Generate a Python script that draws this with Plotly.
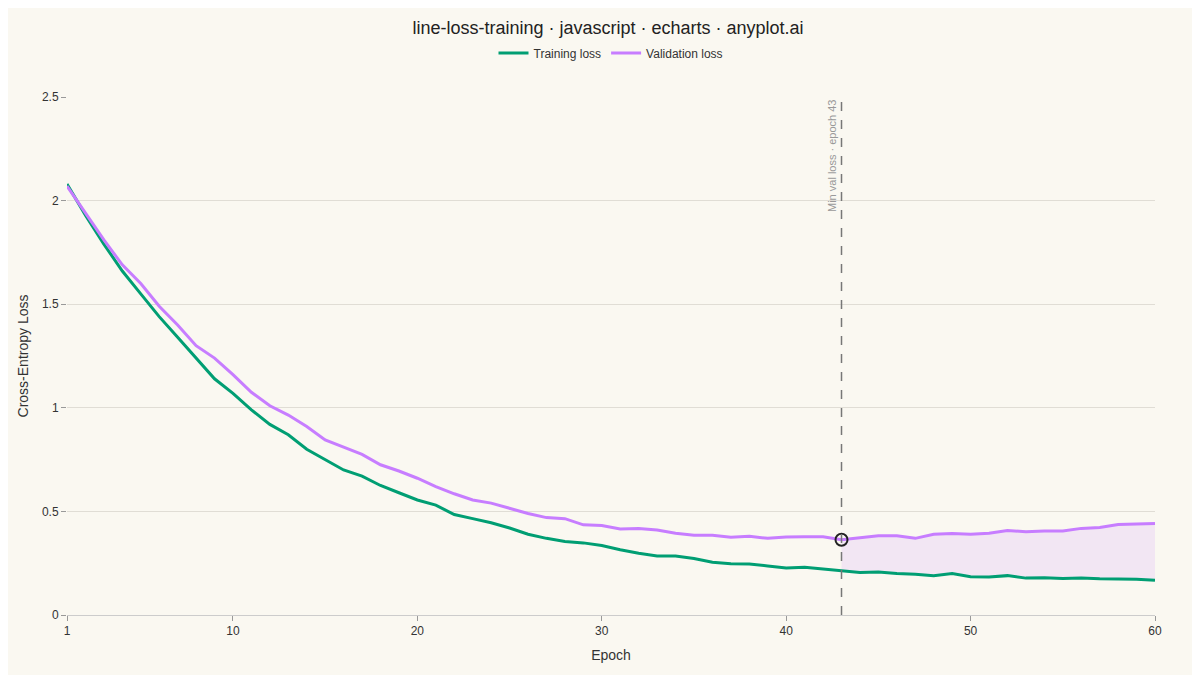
import plotly.graph_objects as go

epochs = list(range(1, 61))
train_loss = [2.08, 1.93, 1.79, 1.66, 1.55, 1.44, 1.34, 1.24, 1.14, 1.07,
              0.99, 0.92, 0.87, 0.80, 0.75, 0.70, 0.67, 0.625, 0.59, 0.555,
              0.53, 0.485, 0.465, 0.445, 0.42, 0.39, 0.37, 0.355, 0.348, 0.335,
              0.315, 0.298, 0.285, 0.285, 0.273, 0.255, 0.247, 0.246, 0.237, 0.227,
              0.23, 0.222, 0.213, 0.205, 0.207, 0.2, 0.197, 0.19, 0.2, 0.185,
              0.184, 0.19, 0.178, 0.18, 0.176, 0.178, 0.175, 0.175, 0.173, 0.168]
val_loss = [2.07, 1.94, 1.81, 1.69, 1.60, 1.49, 1.40, 1.30, 1.24, 1.16,
            1.075, 1.01, 0.965, 0.91, 0.845, 0.81, 0.775, 0.725, 0.695, 0.66,
            0.62, 0.585, 0.555, 0.54, 0.515, 0.49, 0.47, 0.465, 0.435, 0.432,
            0.415, 0.418, 0.41, 0.395, 0.385, 0.385, 0.375, 0.38, 0.37, 0.377,
            0.378, 0.378, 0.363, 0.372, 0.383, 0.382, 0.37, 0.39, 0.393, 0.39,
            0.395, 0.408, 0.402, 0.405, 0.405, 0.418, 0.422, 0.437, 0.44, 0.442]

best = val_loss.index(min(val_loss))
best_epoch = epochs[best]

green = "#009E73"
purple = "#C77DFF"
bg = "#FAF8F1"

fig = go.Figure()

# shaded overfitting gap after the best epoch
fig.add_trace(go.Scatter(x=epochs[best:], y=train_loss[best:], mode="lines",
                         line=dict(width=0), showlegend=False, hoverinfo="skip"))
fig.add_trace(go.Scatter(x=epochs[best:], y=val_loss[best:], mode="lines",
                         line=dict(width=0), fill="tonexty",
                         fillcolor="rgba(199,125,255,0.15)", showlegend=False, hoverinfo="skip"))

fig.add_trace(go.Scatter(x=epochs, y=train_loss, mode="lines", name="Training loss",
                         line=dict(color=green, width=3)))
fig.add_trace(go.Scatter(x=epochs, y=val_loss, mode="lines", name="Validation loss",
                         line=dict(color=purple, width=3)))
fig.add_trace(go.Scatter(x=[best_epoch], y=[val_loss[best]], mode="markers", showlegend=False,
                         marker=dict(size=12, color="rgba(0,0,0,0)",
                                     line=dict(color="#222222", width=2))))

fig.add_shape(type="line", x0=best_epoch, x1=best_epoch, y0=0, y1=2.5, xref="x", yref="y",
              line=dict(color="#777777", width=1.5, dash="dash"))
fig.add_annotation(x=best_epoch, y=2.5, xref="x", yref="y", text="Min val loss · epoch " + str(best_epoch),
                   textangle=-90, showarrow=False, xanchor="right", yanchor="top", xshift=-2,
                   font=dict(size=11, color="#999999"))

fig.update_layout(
    width=1200, height=675,
    paper_bgcolor=bg, plot_bgcolor=bg,
    font=dict(family="Liberation Sans, Arial, sans-serif", color="#333333"),
    title=dict(text="line-loss-training · javascript · echarts · anyplot.ai", x=0.5, y=0.98,
               xanchor="center", yanchor="top", font=dict(size=18, color="#222222")),
    legend=dict(orientation="h", x=0.5, xanchor="center", y=1.085, yanchor="middle",
                traceorder="normal", font=dict(size=12), bgcolor="rgba(0,0,0,0)",
                itemwidth=30),
    margin=dict(l=59, r=53, t=89, b=68),
    showlegend=True,
    xaxis=dict(range=[1, 60], tickvals=[1, 10, 20, 30, 40, 50, 60], showgrid=False,
               zeroline=False, showline=True, linecolor="#cccccc", ticks="outside",
               ticklen=5, tickcolor="#999999", tickfont=dict(size=12),
               title=dict(text="Epoch", font=dict(size=14), standoff=12)),
    yaxis=dict(range=[0, 2.5], tickvals=[0, 0.5, 1, 1.5, 2, 2.5], showgrid=True,
               gridcolor="#e0ddd5", zeroline=False, ticks="outside", ticklen=5,
               tickcolor="#999999", tickfont=dict(size=12),
               title=dict(text="Cross-Entropy Loss", font=dict(size=14), standoff=10)),
)

fig.write_html("out.html")
